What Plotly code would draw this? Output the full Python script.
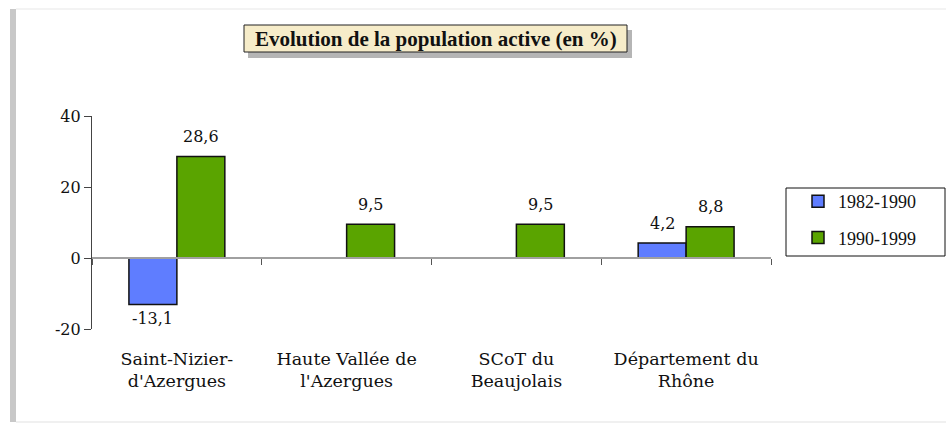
import plotly.graph_objects as go

categories = ["Saint-Nizier-<br>d'Azergues", "Haute Vallée de<br>l'Azergues", "SCoT du<br>Beaujolais", "Département du<br>Rhône"]
series_names = ["1982-1990", "1990-1999"]
values_1982_1990 = [-13.1, None, None, 4.2]
values_1990_1999 = [28.6, 9.5, 9.5, 8.8]
y_ticks = [-20, 0, 20, 40]
y_tick_labels = ["-20", "0", "20", "40"]
title_text = "Evolution de la population active (en %)"

SERIF = "DejaVu Serif"
TIMES = "Liberation Serif"
W, H = 946, 424
ML, MR, MT, MB = 92, 175, 116, 95
PW, PH = W - ML - MR, H - MT - MB
BARGAP = 0.435

def px_x(p):
    return (p - ML) / PW

def px_y(p):
    return (H - MB - p) / PH

series = [(series_names[0], values_1982_1990, "#5f7dff"),
          (series_names[1], values_1990_1999, "#5aa400")]

fig = go.Figure()
for i, (name, vals, col) in enumerate(series):
    fig.add_trace(go.Bar(
        x=categories, y=vals, name=name, legendgroup=name,
        marker=dict(color=col, line=dict(color="#111111", width=1.5)),
        cliponaxis=False,
    ))

# value labels above / below the bars
bar_px = PW / len(categories) * (1 - BARGAP) / len(series)
for i, (name, vals, col) in enumerate(series):
    for cat, v in zip(categories, vals):
        if v is None:
            continue
        fig.add_annotation(x=cat, y=v, xref="x", yref="y", showarrow=False,
                           text=f"{v:.1f}".replace(".", ","),
                           xshift=(i - 0.5) * bar_px,
                           yshift=20 if v > 0 else -14,
                           font=dict(family=SERIF, size=16, color="#111111"))

# invisible helper for the baseline axis with boundary ticks at y=0
fig.add_trace(go.Scatter(x=categories, y=[0] * len(categories), xaxis="x2", mode="none",
                         showlegend=False, hoverinfo="skip"))

ymin, ymax = y_ticks[0], y_ticks[-1]
fig.update_layout(
    width=W, height=H, autosize=False,
    margin=dict(l=ML, r=MR, t=MT, b=MB),
    paper_bgcolor="white", plot_bgcolor="white",
    barmode="group", bargap=BARGAP, bargroupgap=0,
    font=dict(family=SERIF, size=16, color="#111111"),
    xaxis=dict(type="category", showline=False, ticks="", showgrid=False,
               tickfont=dict(family=SERIF, size=17.5, color="#111111"),
               ticklabelstandoff=17, range=[-0.5, 3.5]),
    xaxis2=dict(type="category", overlaying="x", anchor="free",
                position=(0 - ymin) / (ymax - ymin), side="bottom",
                showline=True, linecolor="#a0a0a0", linewidth=1.5,
                ticks="outside", tickson="boundaries", ticklen=6, tickcolor="#555555",
                tickwidth=1.2, showticklabels=False, showgrid=False, range=[-0.5, 3.5]),
    yaxis=dict(range=[ymin, ymax], tickvals=y_ticks, ticktext=y_tick_labels,
               showgrid=False, zeroline=False,
               showline=True, linecolor="#444444", linewidth=1.2,
               ticks="outside", ticklen=7, tickcolor="#444444",
               tickfont=dict(family=SERIF, size=16, color="#111111")),
    legend=dict(x=px_x(798), y=px_y(183), xanchor="left", yanchor="top",
                borderwidth=0, bgcolor="rgba(0,0,0,0)",
                font=dict(family=TIMES, size=18, color="#111111"),
                itemwidth=30, traceorder="grouped", tracegroupgap=10),
)

# legend frame
fig.add_shape(type="rect", xref="paper", yref="paper",
              x0=px_x(786), x1=px_x(945), y0=px_y(256), y1=px_y(188),
              line=dict(color="#111111", width=1), fillcolor="white", layer="below")

# frame edges
fig.add_shape(type="rect", xref="paper", yref="paper",
              x0=px_x(10), x1=px_x(16), y0=px_y(422), y1=px_y(9),
              fillcolor="#c8c8c8", line=dict(width=0), layer="below")
fig.add_shape(type="line", xref="paper", yref="paper",
              x0=px_x(16), x1=px_x(946), y0=px_y(9), y1=px_y(9),
              line=dict(color="#efefef", width=1.5))
fig.add_shape(type="line", xref="paper", yref="paper",
              x0=px_x(16), x1=px_x(946), y0=px_y(422), y1=px_y(422),
              line=dict(color="#ebebeb", width=1.5))

# title box with shadow
fig.add_shape(type="rect", xref="paper", yref="paper",
              x0=px_x(248), x1=px_x(632), y0=px_y(58), y1=px_y(30),
              fillcolor="rgba(90,90,90,0.45)", line=dict(width=0))
fig.add_shape(type="rect", xref="paper", yref="paper",
              x0=px_x(244), x1=px_x(627), y0=px_y(52), y1=px_y(25),
              fillcolor="#f6ecc9", line=dict(color="#222222", width=1))
fig.add_annotation(x=px_x(435.5), y=px_y(38.5), xref="paper", yref="paper", showarrow=False,
                   xanchor="center", yanchor="middle",
                   text="<b>" + title_text + "</b>",
                   font=dict(family=TIMES, size=21, color="#111111"))

fig.write_html("out.html", config={"displayModeBar": False},
               post_script="document.body.style.margin='0px';")
